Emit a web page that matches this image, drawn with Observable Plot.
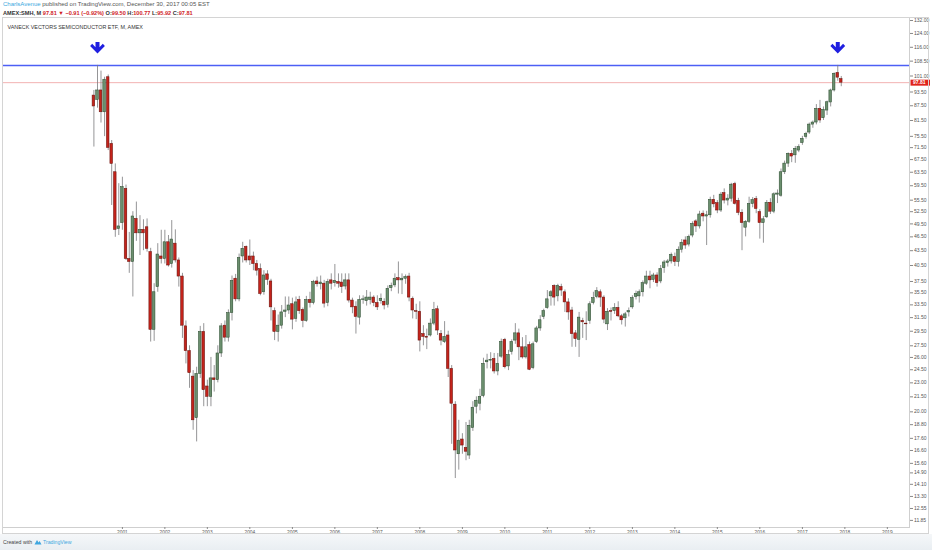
<!DOCTYPE html>
<html><head><meta charset="utf-8">
<script src="https://cdn.jsdelivr.net/npm/d3@7"></script>
<script src="https://cdn.jsdelivr.net/npm/@observablehq/plot@0.6"></script>
<style>
html,body{margin:0;padding:0;background:#fff;width:932px;height:550px;overflow:hidden;font-family:"Liberation Sans",Arial,sans-serif;}
#l1{position:absolute;left:3px;top:0px;font-size:6px;line-height:8px;color:#555;white-space:nowrap;}
#l1 .u{color:#3aa7de;}
#l2{position:absolute;left:3px;top:8.5px;font-size:5.6px;line-height:8px;color:#333;white-space:nowrap;font-weight:bold;}
#l2 .r{color:#d0231f;}
#chart{position:absolute;left:0;top:17px;width:932px;height:517px;}
#box{position:absolute;left:2px;top:17px;width:927px;height:517px;border:1px solid #d4d4d4;box-sizing:border-box;pointer-events:none;}
#foot{position:absolute;left:0;top:534px;width:932px;height:16px;background:linear-gradient(#f5f7f9,#e9eef2);}
#foot .t{position:absolute;left:3px;top:5px;font-size:5.2px;line-height:7px;color:#444;white-space:nowrap;}
#foot .tv{color:#3ea7e0;}
</style></head>
<body>
<div id="l1"><span class="u">CharlsAvenue</span> published on TradingView.com, December 30, 2017 00:05 EST</div>
<div id="l2">AMEX:SMH, M <span class="r">97.81 ▼ −0.91 (−0.92%)</span> O:<span class="r">99.50</span> H:<span class="r">100.77</span> L:<span class="r">95.92</span> C:<span class="r">97.81</span></div>
<div id="chart"></div>
<div id="box"></div>
<div id="foot"><div class="t">Created with <svg width="8" height="6" viewBox="0 0 8 6" style="vertical-align:-1px"><path d="M0.5 5.5 L3 1 L4.6 3.4 L5.6 2 L7.5 5.5 Z" fill="#3ea7e0"/></svg> <span class="tv">TradingView</span></div></div>
<script>
// Monthly candles, May 2000 .. Dec 2017 (AMEX:SMH)
const opens = [
91.9,90.0,94.2,84.8,100.4,72.8,63.5,48.3,
49.7,58.6,41.8,41.2,50.7,47.3,48.1,48.7,43.2,29.7,36.5,42.3,
41.8,45.3,40.8,45.0,41.5,38.4,30.2,26.8,23.7,19.4,24.0,29.4,
22.6,21.5,23.5,23.3,26.5,30.3,28.6,32.2,38.0,34.4,42.3,44.3,
42.3,42.3,40.8,39.8,35.6,38.8,37.5,32.5,29.4,30.3,32.4,32.6,
33.6,31.3,34.3,32.7,31.0,34.3,33.8,37.5,37.0,37.1,33.8,37.7,
37.2,37.4,37.3,36.6,37.7,34.2,33.2,31.5,34.3,34.1,34.3,34.7,
33.8,34.1,34.0,33.5,36.3,36.8,38.1,37.7,38.0,38.4,34.5,32.5,
32.4,29.1,28.7,28.9,30.6,32.8,29.1,28.0,28.9,24.6,20.7,16.3,
17.5,16.8,16.2,18.5,20.5,20.8,21.6,25.4,25.6,25.8,24.3,26.1,
28.3,24.9,26.7,28.2,29.2,27.3,26.0,27.6,24.7,28.0,29.9,31.6,
33.0,34.9,36.7,34.9,36.5,35.6,33.9,32.6,29.2,28.3,31.0,30.6,
31.0,33.8,34.8,35.6,34.7,30.5,32.5,32.5,33.0,31.7,31.4,32.3,
33.1,34.8,34.9,35.6,37.1,38.4,37.8,38.6,37.5,40.0,41.0,41.3,
42.2,41.2,43.7,45.7,44.8,46.8,50.1,48.9,52.0,51.3,51.6,55.6,
54.7,52.8,57.4,55.4,55.9,60.0,55.3,52.2,48.6,50.0,54.5,55.8,
52.4,49.7,51.1,54.8,52.5,57.0,56.7,63.5,66.2,69.4,68.9,70.5,
73.1,75.3,76.9,79.9,80.7,86.2,82.4,85.5,88.9,94.2,102.5,99.50
];
const highs = [
94.2,106.3,103.4,100.4,101.5,74.0,66.1,60.1,
62.0,59.7,47.5,52.5,55.0,51.5,50.5,50.7,44.0,37.1,45.0,48.0,
48.0,46.8,50.3,48.1,42.0,39.0,31.0,27.5,24.4,24.8,30.2,30.6,
23.3,26.0,25.0,27.5,30.6,31.0,32.7,38.5,38.8,42.8,45.3,44.5,
45.8,43.2,41.5,40.8,39.5,39.5,37.9,33.0,31.9,33.4,34.8,34.8,
34.6,34.8,34.9,33.0,34.9,35.6,37.7,38.3,38.5,37.7,37.9,38.9,
40.7,38.9,38.9,38.9,38.9,34.6,34.0,35.0,35.0,35.9,35.6,35.0,
35.0,35.3,34.5,36.7,37.2,38.9,41.2,38.9,38.7,39.0,34.8,33.6,
34.0,30.3,29.8,31.3,33.9,33.3,29.6,30.9,29.5,25.0,21.0,19.2,
18.0,19.0,19.2,21.0,21.5,22.3,25.9,26.4,26.6,26.5,26.5,28.4,
28.5,26.9,28.3,30.6,29.8,28.6,28.9,28.0,28.0,30.2,31.8,32.8,
35.9,35.9,36.9,37.0,37.0,36.0,34.5,33.1,29.6,32.3,31.4,32.4,
34.0,35.6,36.4,36.0,35.0,32.9,33.0,33.7,34.0,32.0,32.3,33.0,
35.0,35.8,36.0,37.6,39.4,39.4,39.0,39.1,40.5,41.5,41.7,43.0,
43.0,44.3,45.9,46.5,46.9,50.0,50.5,52.6,52.7,52.6,56.3,56.8,
55.4,57.6,58.6,57.0,60.2,60.5,56.0,53.0,50.3,56.3,56.2,56.5,
53.0,51.3,55.4,55.9,57.5,58.3,64.5,67.0,69.7,70.5,71.9,72.5,
75.5,77.0,80.5,81.3,88.0,89.8,87.0,89.5,94.8,102.5,106.3,100.77
];
const lows = [
71.7,86.5,80.5,75.4,70.5,54.1,46.4,46.8,
48.0,41.5,39.0,34.8,45.5,42.5,43.5,43.2,28.0,28.1,35.6,40.8,
40.8,40.2,40.0,41.0,36.5,28.5,25.2,22.4,18.3,17.3,23.5,20.5,
20.5,20.5,22.0,23.0,26.0,28.0,28.0,31.0,34.0,34.0,41.0,41.0,
40.5,39.5,38.5,35.0,35.1,36.8,31.0,28.2,28.0,29.8,31.5,32.0,
29.7,30.8,32.0,30.0,30.8,33.0,33.5,36.5,36.0,33.0,33.2,36.0,
36.5,36.3,35.4,36.0,33.8,32.1,29.1,30.4,33.6,33.3,33.5,33.2,
32.6,33.6,32.7,33.0,35.7,36.4,35.3,35.2,37.0,34.0,31.3,31.2,
26.7,27.5,27.0,28.7,30.3,28.9,27.5,27.8,23.6,17.1,14.5,15.1,
16.3,15.8,15.9,18.2,19.8,20.1,21.4,24.6,24.6,24.0,23.8,25.9,
24.6,24.4,26.3,27.7,25.6,25.8,25.8,24.4,24.5,27.8,29.5,31.2,
32.8,33.3,33.3,34.0,34.9,32.3,31.1,27.3,27.3,26.0,28.5,28.2,
30.5,33.5,34.5,33.1,30.6,29.6,31.0,32.0,31.5,30.4,30.1,31.6,
32.8,34.3,33.8,34.8,36.8,36.2,37.3,36.5,37.1,39.0,40.2,40.8,
40.3,40.2,43.0,43.8,44.3,46.3,47.5,48.3,50.0,44.6,50.9,53.5,
52.0,52.3,54.5,54.0,55.0,54.2,51.5,43.5,46.5,49.6,53.5,52.0,
46.0,45.1,50.8,51.8,52.0,54.6,56.3,62.8,65.0,66.5,66.3,69.8,
72.3,74.5,76.2,78.5,79.8,80.4,81.5,83.5,87.0,93.5,98.5,95.92
];
const closes = [
87.2,94.2,84.8,99.2,71.4,66.1,48.1,48.9,
59.1,41.8,41.2,51.3,47.3,48.1,47.3,43.9,29.7,35.6,42.7,41.8,
45.3,40.5,45.9,41.5,38.4,30.3,26.8,24.1,19.2,24.0,29.4,22.2,
21.5,23.5,23.3,26.5,30.2,28.6,32.2,37.6,34.4,42.0,43.9,41.5,
41.5,40.8,39.5,35.3,38.6,37.8,33.1,29.4,30.3,32.3,32.6,33.4,
31.2,33.9,32.5,31.0,34.3,33.8,37.4,37.0,37.3,33.7,37.4,37.1,
37.6,37.1,36.5,37.7,34.2,33.1,31.6,34.3,34.4,34.7,34.7,33.8,
33.1,34.5,33.4,36.2,36.7,38.0,37.7,38.0,38.3,34.7,32.6,32.4,
28.2,28.7,28.6,30.6,32.7,29.6,28.2,28.7,24.6,20.8,16.6,17.4,
17.0,16.5,18.7,20.4,21.1,21.5,25.2,25.6,25.7,24.3,25.2,28.0,
24.8,26.3,28.0,29.2,27.3,26.0,27.3,24.5,27.7,29.9,31.1,32.5,
34.4,35.6,34.7,36.7,35.9,33.9,32.3,29.1,28.4,31.5,30.8,30.5,
33.6,34.6,35.8,34.7,31.2,32.4,32.4,33.0,31.7,31.1,32.0,32.5,
34.6,35.3,35.6,37.2,38.4,37.7,38.6,37.2,39.8,41.1,41.3,42.6,
41.2,43.7,45.2,44.6,46.5,49.5,48.9,51.8,51.3,51.6,55.6,54.4,
52.8,57.0,55.4,55.9,59.8,54.5,52.2,49.7,50.0,54.5,55.5,53.2,
49.7,50.6,54.8,52.5,57.1,57.3,63.5,66.2,69.4,68.5,71.1,71.7,
74.6,76.4,79.9,80.7,86.2,81.5,85.8,89.0,94.2,102.1,100.2,97.81
];
const priceTicks = [132,124,116,108.5,101,93.5,87.5,81.5,75.5,71.5,67.5,63.5,59.5,55.5,52.5,49.5,46.5,43.5,40.5,37.5,35.5,33.5,31.5,29.5,27.5,26,24.5,23,21.5,20,18.8,17.6,16.6,15.6,14.9,14.1,13.3,12.55,11.85];
const yearTicks = [2001,2002,2003,2004,2005,2006,2007,2008,2009,2010,2011,2012,2013,2014,2015,2016,2017,2018,2019];
const resistance = [106.3];
const lastPrice = [97.81];
const arrowDates = [[2000,5],[2017,10]];
const arrowLevel = 115.6;
const paneTitle = ["VANECK VECTORS SEMICONDUCTOR ETF, M, AMEX"];

const DAY = 864e5;
const candles = opens.map((o,i)=>({
  date: new Date(Date.UTC(2000, 4+i, 1)),
  open:o, high:highs[i], low:lows[i], close:closes[i], up: closes[i] >= o
}));
const arrows = arrowDates.map(([y,m])=>({date:new Date(Date.UTC(y,m,1)), v:arrowLevel}));
const yearDates = yearTicks.map(y=>new Date(Date.UTC(y,0,1)));

const base = Date.UTC(2001,0,1);
const xDomain = [new Date(base - 2.8212*365.25*DAY), new Date(base + 18.52*365.25*DAY)];

const arrowSymbol = {draw(ctx){
  ctx.moveTo(-2,-6); ctx.lineTo(2,-6); ctx.lineTo(2,-0.8); ctx.lineTo(5.3,-4.2);
  ctx.lineTo(7.4,-2.1); ctx.lineTo(0,5.6); ctx.lineTo(-7.4,-2.1); ctx.lineTo(-5.3,-4.2);
  ctx.lineTo(-2,-0.8); ctx.closePath();
}};
const labelBox = {draw(ctx){ ctx.rect(1,-3,19.5,6); }};

const chart = Plot.plot({
  width: 932, height: 517,
  marginLeft: 2, marginRight: 23, marginTop: 0, marginBottom: 7,
  style: {background:"transparent", fontFamily:"'Liberation Sans', Arial, sans-serif", overflow:"visible"},
  x: {type:"utc", domain: xDomain, axis: null},
  y: {type:"log", domain: [11.45, 133.92], axis: null},
  marks: [
    Plot.frame({stroke:"#cfcfcf"}),
    Plot.ruleY(resistance, {stroke:"#4d5ff5", strokeWidth:1.5}),
    Plot.ruleY(lastPrice, {stroke:"#f1a9a9", strokeWidth:0.9}),
    Plot.ruleX(candles, {x:"date", y1:"low", y2:"high", stroke:"#7a7a7c", strokeWidth:0.8}),
    Plot.rect(candles, {
      x1: d=>new Date(+d.date - 11*DAY), x2: d=>new Date(+d.date + 11*DAY),
      y1:"open", y2:"close",
      fill: d=>d.up ? "#6b8f6e" : "#c4231b",
      stroke: d=>d.up ? "#2f4f33" : "#6b130e", strokeWidth:0.55
    }),
    Plot.axisY(priceTicks, {anchor:"right", label:null, tickSize:3, tickPadding:1.5,
      tickFormat: d=>d.toFixed(2), fontSize:5, stroke:"#888", fill:"#555"}),
    Plot.axisX(yearDates, {anchor:"bottom", label:null, tickSize:2, tickPadding:1,
      tickFormat: d3.utcFormat("%Y"), fontSize:4.8, stroke:"#888", fill:"#555"}),
    Plot.dot(arrows, {x:"date", y:"v", symbol: arrowSymbol, fill:"#1f1fe0", stroke:"none"}),
    Plot.dot(lastPrice, {y: d=>d, frameAnchor:"right", symbol: labelBox, fill:"#e0241c", stroke:"none"}),
    Plot.text(lastPrice, {y: d=>d, frameAnchor:"right", dx:3.5, textAnchor:"start", text: d=>d.toFixed(2), fill:"white", fontSize:5, fontWeight:"bold"}),
    Plot.text(paneTitle, {frameAnchor:"top-left", dx:5, dy:8, textAnchor:"start", text: d=>d, fill:"#333", fontSize:5.4})
  ]
});
document.getElementById("chart").appendChild(chart);
</script>
</body></html>
